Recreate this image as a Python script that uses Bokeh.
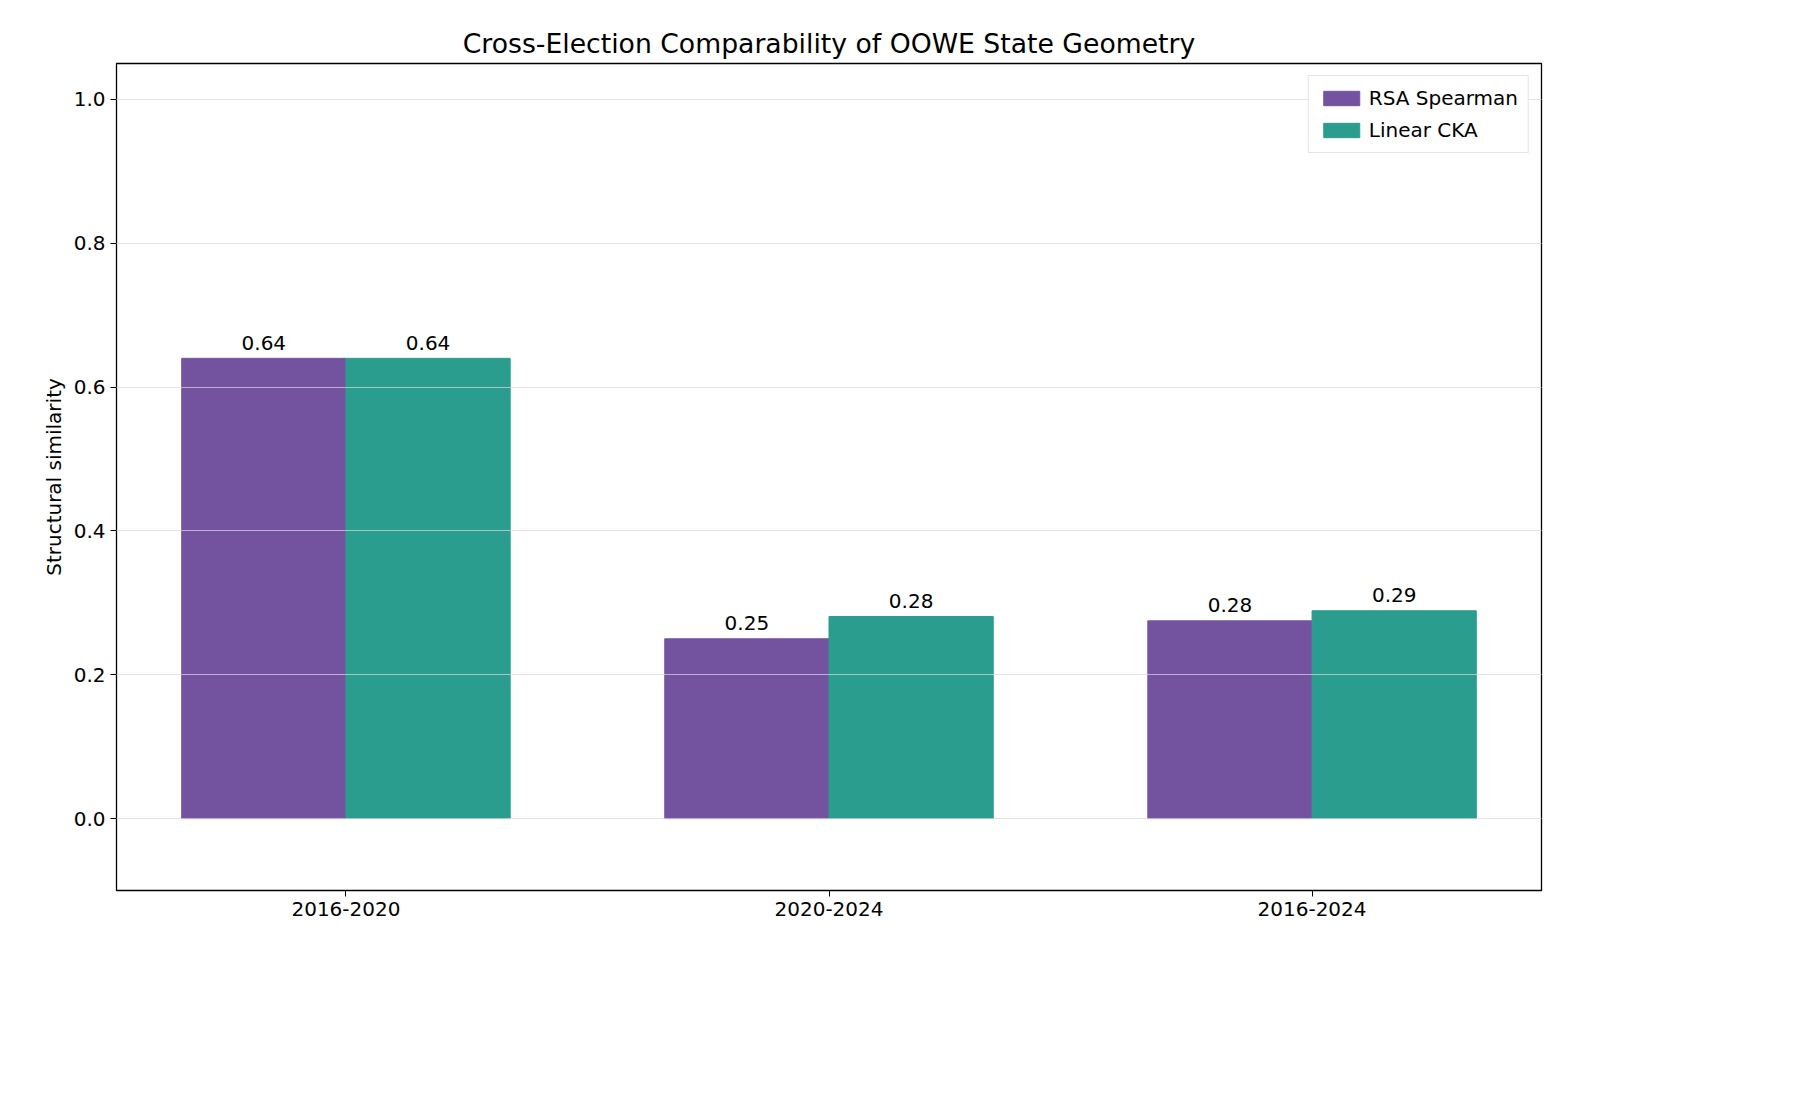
from bokeh.plotting import figure
from bokeh.models import FixedTicker, Range1d, Legend, LegendItem, ColumnDataSource
from bokeh.embed import file_html
from bokeh.resources import INLINE

categories = ["2016-2020", "2020-2024", "2016-2024"]
rsa = [0.64, 0.25, 0.275]
cka = [0.64, 0.281, 0.289]
rsa_labels = ["0.64", "0.25", "0.28"]
cka_labels = ["0.64", "0.28", "0.29"]

PURPLE = "#7353a0"
TEAL = "#2a9d8f"
FONT = "DejaVu Sans"
w = 0.34

p = figure(width=1560, height=960, output_backend="svg", toolbar_location=None,
           x_range=Range1d(-0.475, 2.475), y_range=Range1d(-0.1, 1.05),
           min_border_left=116, min_border_right=19, min_border_top=63, min_border_bottom=70)
p.title.text = "Cross-Election Comparability of OOWE State Geometry"
p.title.align = "center"
p.title.text_font = FONT
p.title.text_font_size = "20pt"
p.title.text_font_style = "normal"
p.title.text_color = "black"

xs = list(range(len(categories)))
x1 = [x - w / 2 for x in xs]
x2 = [x + w / 2 for x in xs]
s1 = ColumnDataSource(dict(x=x1, top=rsa, lab=rsa_labels, ly=[v + 0.012 for v in rsa]))
s2 = ColumnDataSource(dict(x=x2, top=cka, lab=cka_labels, ly=[v + 0.012 for v in cka]))
r1 = p.vbar(x="x", top="top", bottom=0, width=w, color=PURPLE, source=s1)
r2 = p.vbar(x="x", top="top", bottom=0, width=w, color=TEAL, source=s2)
for s in (s1, s2):
    p.text(x="x", y="ly", text="lab", source=s, text_align="center", text_baseline="bottom",
           text_font_size="15pt", text_font={"value": FONT}, text_color="black")

p.xaxis.ticker = FixedTicker(ticks=xs)
p.xaxis.major_label_overrides = {i: c for i, c in enumerate(categories)}
p.yaxis.ticker = FixedTicker(ticks=[0, 0.2, 0.4, 0.6, 0.8, 1.0])
p.yaxis.major_label_overrides = {0: "0.0", 0.2: "0.2", 0.4: "0.4", 0.6: "0.6", 0.8: "0.8", 1.0: "1.0"}
p.yaxis.axis_label = "Structural similarity"
for ax in (p.xaxis, p.yaxis):
    ax.major_label_text_font = FONT
    ax.major_label_text_font_size = "15pt"
    ax.major_label_text_color = "black"
    ax.axis_label_text_font = FONT
    ax.axis_label_text_font_size = "15pt"
    ax.axis_label_text_font_style = "normal"
    ax.axis_label_text_color = "black"
    ax.minor_tick_line_color = None
    ax.major_tick_out = 6
    ax.major_tick_in = 0
    ax.major_tick_line_color = "black"
    ax.axis_line_color = None
p.xgrid.grid_line_color = None
p.ygrid.grid_line_color = "#d9d9d9"
p.ygrid.grid_line_alpha = 0.7
p.ygrid.level = "overlay"
p.outline_line_color = "black"
p.outline_line_width = 1.3

legend = Legend(items=[LegendItem(label="RSA Spearman", renderers=[r1]),
                       LegendItem(label="Linear CKA", renderers=[r2])],
                location="top_right", label_text_font=FONT, label_text_font_size="15pt",
                label_text_color="black",
                border_line_color="#cccccc", glyph_width=45, glyph_height=18, spacing=8,
                padding=10, margin=12)
p.add_layout(legend)

open("out.html", "w").write(file_html(p, INLINE))
